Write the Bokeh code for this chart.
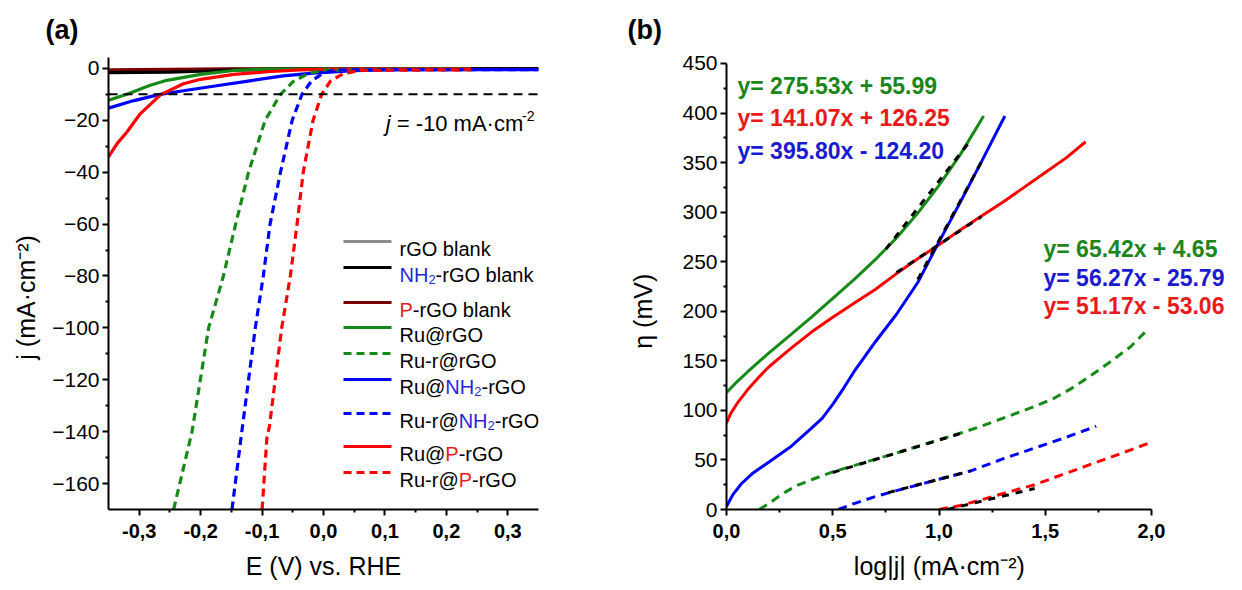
import math
from bokeh.plotting import figure
from bokeh.layouts import row
from bokeh.models import Range1d, FixedTicker, CustomJSTickFormatter, Label, Span, Arrow
from bokeh.embed import file_html
from bokeh.resources import INLINE

# ---------------- panel (a): polarisation curves, E (V vs RHE) / j (mA cm-2)
E_rgo_blank = [-0.35, -0.25, -0.15, 0.0, 0.35]
j_rgo_blank = [-1.0, -0.6, -0.3, -0.1, -0.1]
E_nh2_blank = [-0.35, -0.3, -0.25, -0.2, -0.15, -0.1, 0.0, 0.35]
j_nh2_blank = [-1.6, -1.5, -1.4, -1.1, -0.7, -0.4, -0.2, -0.2]
E_p_blank = [-0.35, -0.25, -0.15, 0.0, 0.35]
j_p_blank = [-0.6, -0.4, -0.2, -0.1, -0.1]

E_ru_rgo = [-0.35, -0.32, -0.282, -0.255, -0.2, -0.146, -0.092, 0.0, 0.24]
j_ru_rgo = [-12.3, -10.0, -6.5, -4.6, -2.3, -0.8, -0.3, -0.2, -0.2]
E_rur_rgo = [-0.244, -0.214, -0.187, -0.163, -0.143, -0.122, -0.095, -0.07, -0.049, -0.025, 0.0, 0.1, 0.24]
j_rur_rgo = [-170, -140, -100, -80, -60, -40, -20, -10, -5, -2, -0.7, -0.5, -0.5]

E_ru_nh2 = [-0.35, -0.31, -0.268, -0.228, -0.174, -0.12, -0.066, -0.012, 0.05, 0.12, 0.35]
j_ru_nh2 = [-15.3, -12.5, -10.1, -8.6, -6.7, -4.8, -2.9, -1.7, -0.9, -0.5, -0.5]
E_rur_nh2 = [-0.149, -0.133, -0.111, -0.098, -0.087, -0.07, -0.051, -0.035, -0.02, -0.005, 0.011, 0.03, 0.1, 0.35]
j_rur_nh2 = [-170, -140, -100, -80, -60, -40, -20, -10, -5, -2.5, -1, -0.6, -0.5, -0.5]

E_ru_p = [-0.35, -0.336, -0.32, -0.298, -0.265, -0.228, -0.2, -0.146, -0.092, -0.038, 0.02, 0.24]
j_ru_p = [-34.1, -29.0, -24.5, -17.4, -10.1, -5.9, -4.2, -2.3, -1.3, -0.6, -0.3, -0.3]
E_rur_p = [-0.1, -0.092, -0.088, -0.068, -0.054, -0.043, -0.033, -0.017, -0.003, 0.011, 0.032, 0.06, 0.24]
j_rur_p = [-170, -142, -138, -100, -80, -60, -40, -20, -10, -5, -2, -0.8, -0.5]

j_ref = -10

# ---------------- panel (b): Tafel plots, log|j| / eta (mV)
lj_ru_rgo = [0.0, 0.05, 0.1, 0.2, 0.3, 0.4, 0.5, 0.6, 0.7, 0.8, 0.9, 1.0, 1.1, 1.21]
eta_ru_rgo = [118, 129, 139, 158, 176, 194, 213, 232, 252, 274, 299, 327, 358, 397]
lj_ru_p = [0.0, 0.02, 0.05, 0.1, 0.15, 0.2, 0.3, 0.4, 0.5, 0.6, 0.7, 0.8, 0.9, 1.0, 1.1, 1.2, 1.3, 1.4, 1.5, 1.6, 1.69]
eta_ru_p = [87, 97, 107, 121, 133, 144, 162, 179, 194, 208, 222, 238, 253, 267, 282, 296, 310, 325, 340, 355, 371]
lj_ru_nh2 = [0.0, 0.03, 0.07, 0.12, 0.2, 0.3, 0.4, 0.45, 0.5, 0.55, 0.6, 0.7, 0.8, 0.9, 1.0, 1.1, 1.2, 1.31]
eta_ru_nh2 = [3, 15, 26, 36, 48, 63, 82, 92, 106, 122, 139, 169, 197, 229, 270, 310, 351, 397]

lj_rur_rgo = [0.154, 0.2, 0.238, 0.28, 0.33, 0.4, 0.5, 0.8, 1.13, 1.25, 1.35, 1.45, 1.54, 1.63, 1.72, 1.8, 1.9, 1.97]
eta_rur_rgo = [0, 6, 12, 18, 24, 30, 38, 57, 79, 88, 96, 104, 112, 123, 136, 148, 164, 179]
lj_rur_nh2 = [0.526, 0.6, 0.7, 0.8, 1.0, 1.15, 1.3, 1.45, 1.6, 1.74]
eta_rur_nh2 = [0, 6, 13, 19, 30.5, 39, 51, 62, 73, 84]
lj_rur_p = [1.0, 1.1, 1.17, 1.35, 1.45, 1.54, 1.63, 1.72, 1.85, 2.0]
eta_rur_p = [0, 4, 8, 19, 25, 32, 39, 46, 56, 68]

# linear Tafel fits shown in (b): slope, intercept, fitted range
fit_slope = [275.53, 141.07, 395.80, 65.42, 56.27, 51.17]
fit_icpt = [55.99, 126.25, -124.20, 4.65, -25.79, -53.06]
fit_x0 = [0.75, 0.80, 0.90, 0.50, 0.76, 1.04]
fit_x1 = [1.15, 1.20, 1.20, 1.13, 1.15, 1.45]

a_xticks = [-0.3, -0.2, -0.1, 0.0, 0.1, 0.2, 0.3]
a_xminor = [-0.25, -0.15, -0.05, 0.05, 0.15, 0.25]
a_yticks = [0, -20, -40, -60, -80, -100, -120, -140, -160]
a_yminor = [-10, -30, -50, -70, -90, -110, -130, -150]
b_xticks = [0.0, 0.5, 1.0, 1.5, 2.0]
b_xminor = [0.25, 0.75, 1.25, 1.75]
b_yticks = [0, 50, 100, 150, 200, 250, 300, 350, 400, 450]
b_yminor = [25, 75, 125, 175, 225, 275, 325, 375, 425]

GREEN = "#168a16"
BLUE = "#0000ff"
RED = "#ff0000"
GRAY = "#8c8c8c"
DARKRED = "#7a0000"
TXT_BLUE = "#2727d8"
TXT_RED = "#e81e1e"
EQ_GREEN = "#1c851c"
EQ_BLUE = "#1a1ad0"
EQ_RED = "#e81b1b"
FONT = "Liberation Sans"
DASH = "8 5"
NBSP = "\u00a0"

# Arial / Liberation Sans advance widths (1/1000 em)
W = {' ': 278, '(': 333, ')': 333, '-': 333, '.': 278, ',': 278, '=': 584, '+': 584, '|': 260,
     '@': 1015, '\u00b7': 278, 'A': 667, 'E': 667, 'G': 778, 'H': 722, 'N': 722, 'O': 778,
     'P': 667, 'R': 722, 'V': 667, 'a': 556, 'b': 556, 'c': 500, 'g': 556, 'j': 222, 'k': 500,
     'l': 222, 'm': 833, 'n': 556, 'o': 556, 'r': 333, 's': 500, 'u': 556, 'v': 500, 'x': 500,
     'y': 500, '\u03b7': 556}


def tw(s, size):
    return sum(W.get(c, 556) for c in s) * size / 1000.0


def lab(p, fr, X, Y, text, size, color="black", style="normal", angle=0.0,
        align="left", baseline="alphabetic"):
    fx0, fy1 = fr
    p.add_layout(Label(x=X - fx0, y=fy1 - Y, x_units="screen", y_units="screen", text=text,
                       text_font=FONT, text_font_size=f"{size}px", text_font_style=style,
                       text_color=color, text_align=align, text_baseline=baseline, angle=angle))


def rich_h(p, fr, X, Y, parts):
    x = X
    for text, size, color, style, dy in parts:
        core = text.strip(" ")
        lead = len(text) - len(text.lstrip(" "))
        trail = len(text) - len(text.rstrip(" "))
        x += lead * tw(" ", size)
        lab(p, fr, x, Y - dy, core, size, color, style)
        x += tw(core, size) + trail * tw(" ", size)


def width_of(parts):
    return sum(tw(t, s) for t, s, _, _, _ in parts)


def style_axes(p, xticks, xminor, yticks, yminor, xfmt):
    p.xaxis.ticker = FixedTicker(ticks=xticks, minor_ticks=xminor)
    p.yaxis.ticker = FixedTicker(ticks=yticks, minor_ticks=yminor)
    p.xaxis.formatter = CustomJSTickFormatter(code=xfmt)
    for ax in (p.xaxis[0], p.yaxis[0]):
        ax.axis_line_width = 2
        ax.axis_line_color = "black"
        ax.major_tick_line_width = 2
        ax.minor_tick_line_width = 2
        ax.major_tick_out = 6
        ax.major_tick_in = 0
        ax.minor_tick_out = 3
        ax.minor_tick_in = 0
        ax.major_label_text_font = FONT
        ax.major_label_text_color = "black"
        ax.axis_label_text_font = FONT
        ax.axis_label_text_font_size = "25px"
        ax.axis_label_text_font_style = "normal"
        ax.axis_label_text_color = "black"
    p.xaxis.major_label_text_font_size = "20px"
    p.xaxis.major_label_text_font_style = "bold"
    p.xaxis.major_label_standoff = 8
    p.xaxis.axis_label_standoff = 11
    p.yaxis.major_label_text_font_size = "21px"
    p.yaxis.major_label_standoff = 3
    p.xgrid.visible = False
    p.ygrid.visible = False
    p.outline_line_color = None
    p.title.text_font = FONT
    p.title.text_font_size = "27px"
    p.title.text_font_style = "bold"
    p.title.text_color = "black"
    p.title.align = "left"
    p.title.vertical_align = "middle"
    p.title.standoff = 24


FMT = "return tick.toFixed(1).replace('.', ',');"

# ================= panel (a)
pa = figure(width=620, height=590, x_range=Range1d(-0.35, 0.35), y_range=Range1d(-170, 4.2),
            output_backend="svg", toolbar_location=None, title="(a)",
            min_border_left=108, min_border_right=82, min_border_top=57, min_border_bottom=81)
style_axes(pa, a_xticks, a_xminor, a_yticks, a_yminor, FMT)
pa.title.offset = -63
pa.xaxis.axis_label = "E (V) vs. RHE"
# trailing no-break spaces nudge the centred label downwards, as in the original
pa.yaxis.axis_label = "j (mA\u00b7cm\u207b\u00b2)" + NBSP * 4
pa.yaxis.axis_label_standoff = 9
FA = (108, 509)

pa.add_layout(Span(location=j_ref, dimension="width", line_color="black", line_width=2,
                   line_dash="9 6"))

curves_a = [
    (E_rgo_blank, j_rgo_blank, GRAY, "solid"),
    (E_p_blank, j_p_blank, DARKRED, "solid"),
    (E_nh2_blank, j_nh2_blank, "black", "solid"),
    (E_ru_rgo, j_ru_rgo, GREEN, "solid"),
    (E_ru_nh2, j_ru_nh2, BLUE, "solid"),
    (E_ru_p, j_ru_p, RED, "solid"),
    (E_rur_rgo, j_rur_rgo, GREEN, DASH),
    (E_rur_nh2, j_rur_nh2, BLUE, DASH),
    (E_rur_p, j_rur_p, RED, DASH),
]
for xs, ys, c, d in curves_a:
    pa.line(xs, ys, line_color=c, line_width=3.2, line_dash=d)

# legend (manual, to allow coloured parts)
SUB = -5
legend_rows = [
    (241, GRAY, "solid", [("rGO blank", 20, "black", "normal", 0)]),
    (267, "black", "solid", [("NH", 20, TXT_BLUE, "normal", 0), ("2", 13, TXT_BLUE, "normal", SUB),
                             ("-rGO blank", 20, "black", "normal", 0)]),
    (302, DARKRED, "solid", [("P", 20, TXT_RED, "normal", 0), ("-rGO blank", 20, "black", "normal", 0)]),
    (327, GREEN, "solid", [("Ru@rGO", 20, "black", "normal", 0)]),
    (353, GREEN, DASH, [("Ru-r@rGO", 20, "black", "normal", 0)]),
    (379, BLUE, "solid", [("Ru@", 20, "black", "normal", 0), ("NH", 20, TXT_BLUE, "normal", 0),
                          ("2", 13, TXT_BLUE, "normal", SUB), ("-rGO", 20, "black", "normal", 0)]),
    (413, BLUE, DASH, [("Ru-r@", 20, "black", "normal", 0), ("NH", 20, TXT_BLUE, "normal", 0),
                       ("2", 13, TXT_BLUE, "normal", SUB), ("-rGO", 20, "black", "normal", 0)]),
    (446, RED, "solid", [("Ru@", 20, "black", "normal", 0), ("P", 20, TXT_RED, "normal", 0),
                         ("-rGO", 20, "black", "normal", 0)]),
    (472, RED, DASH, [("Ru-r@", 20, "black", "normal", 0), ("P", 20, TXT_RED, "normal", 0),
                      ("-rGO", 20, "black", "normal", 0)]),
]
for ly, c, d, parts in legend_rows:
    pa.add_layout(Arrow(x_start=343 - FA[0], y_start=FA[1] - ly, x_end=391 - FA[0], y_end=FA[1] - ly,
                        start_units="screen", end_units="screen", start=None, end=None,
                        line_color=c, line_width=3.2, line_dash=d))
    rich_h(pa, FA, 399, ly + 7, parts)

# j = -10 annotation
jparts = [("j", 22, "black", "italic", 0), (" = -10 mA\u00b7cm", 22, "black", "normal", 0),
          ("-2", 14, "black", "normal", 8)]
rich_h(pa, FA, 534 - width_of(jparts), 123, jparts)

# ================= panel (b)
B_FRAME_W = 622 - 106
B_FRAME_H = 590 - 57 - 78
pb = figure(width=622, height=590, x_range=Range1d(0, 2.0 * B_FRAME_W / 425.0),
            y_range=Range1d(0, 450.0 * B_FRAME_H / 449.0),
            output_backend="svg", toolbar_location=None, title="(b)",
            min_border_left=106, min_border_right=0, min_border_top=57, min_border_bottom=78)
style_axes(pb, b_xticks, b_xminor, b_yticks, b_yminor, FMT)
pb.xaxis.bounds = (0, 2.0)
pb.yaxis.bounds = (0, 450)
pb.title.offset = -99
# the frame runs past 2,0 (room for the fit equations); pad so the title centres under 0..2
pb.xaxis.axis_label = "log|j| (mA\u00b7cm\u207b\u00b2)" + NBSP * 13
pb.yaxis.axis_label = "\u03b7 (mV)" + NBSP * 8
pb.yaxis.axis_label_standoff = 22
FB = (726, 512)

curves_b = [
    (lj_ru_rgo, eta_ru_rgo, GREEN, "solid"),
    (lj_ru_p, eta_ru_p, RED, "solid"),
    (lj_ru_nh2, eta_ru_nh2, BLUE, "solid"),
    (lj_rur_rgo, eta_rur_rgo, GREEN, "9 6"),
    (lj_rur_nh2, eta_rur_nh2, BLUE, "9 6"),
    (lj_rur_p, eta_rur_p, RED, "9 6"),
]
for xs, ys, c, d in curves_b:
    pb.line(xs, ys, line_color=c, line_width=3, line_dash=d)

for a, b, x0, x1 in zip(fit_slope, fit_icpt, fit_x0, fit_x1):
    pb.line([x0, x1], [a * x0 + b, a * x1 + b], line_color="black", line_width=3, line_dash="7 7")


def eq_text(a, b):
    sign = "+" if b >= 0 else "-"
    return f"y= {a:.2f}x {sign} {abs(b):.2f}"


eq_colors = [EQ_GREEN, EQ_RED, EQ_BLUE, EQ_GREEN, EQ_BLUE, EQ_RED]
eq_pos = [(737, 88, 23), (737, 120, 23), (737, 153, 23),
          (1043, 251, 23), (1043, 280, 23), (1043, 308, 23)]
for (a, b), col, (X, Y, s) in zip(zip(fit_slope, fit_icpt), eq_colors, eq_pos):
    lab(pb, FB, X, Y, eq_text(a, b), s, color=col, style="bold")

layout = row(pa, pb)
open("out.html", "w").write(file_html(layout, INLINE))
